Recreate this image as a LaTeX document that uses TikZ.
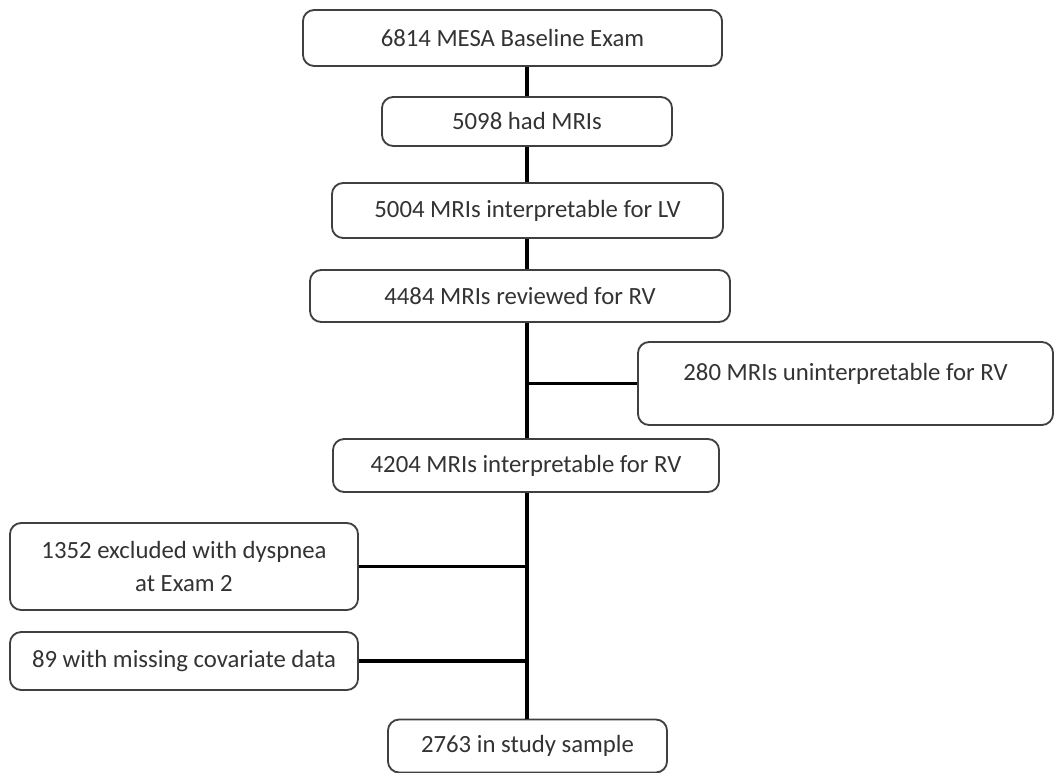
\documentclass[tikz,border=0pt]{standalone}
\usepackage{fontspec}
\setmainfont{Carlito}
\usetikzlibrary{positioning}

\begin{document}
\begin{tikzpicture}[x=0.025cm, y=-0.025cm,
    box/.style={draw=black!75, line width=1.3pt, rounded corners=0.28cm,
      fill=white, text=black!80, align=center, inner sep=0pt,
      font=\fontsize{17.6}{23}\selectfont},
    link/.style={line width=2.2pt, black}]
    \useasboundingbox (0,0) rectangle (1056,773);

    % main column
    \node[box, minimum width=10.475cm, minimum height=1.4cm] (mesa) at (512.5,38) {6814 MESA Baseline Exam};
    \node[box, minimum width=7.25cm, minimum height=1.225cm] (mri) at (527,121.5) {5098 had MRIs};
    \node[box, minimum width=9.775cm, minimum height=1.375cm] (lv) at (527.5,210.5) {5004 MRIs interpretable for LV};
    \node[box, minimum width=10.5cm, minimum height=1.3cm] (review) at (520,296) {4484 MRIs reviewed for RV};
    \node[box, minimum width=9.65cm, minimum height=1.325cm] (rv) at (526,465.5) {4204 MRIs interpretable for RV};
    \node[box, minimum width=6.975cm, minimum height=1.325cm] (sample) at (527.5,746) {2763 in study sample};

    % exclusions
    \node[box, minimum width=10.375cm, minimum height=2.075cm, text depth=0.6cm] (uninterp) at (845.5,383.5) {280 MRIs uninterpretable for RV};
    \node[box, minimum width=8.7cm, minimum height=2.175cm] (dysp) at (184,566.5) {1352 excluded with dyspnea\\at Exam 2};
    \node[box, minimum width=8.7cm, minimum height=1.45cm] (covar) at (184,661) {89 with missing covariate data};

    % spine joints
    \coordinate (j1) at (527,383.5);
    \coordinate (j2) at (527,566.5);
    \coordinate (j3) at (527,661);

    % connectors
    \draw[link] (mesa.south -| j1) -- (mri.north -| j1);
    \draw[link] (mri.south -| j1) -- (lv.north -| j1);
    \draw[link] (lv.south -| j1) -- (review.north -| j1);
    \draw[link] (review.south -| j1) -- (rv.north -| j1);
    \draw[link] (j1) -- (uninterp.west);
    \draw[link] (rv.south -| j2) -- (sample.north -| j2);
    \draw[link] (dysp.east) -- (j2);
    \draw[link] (covar.east) -- (j3);
\end{tikzpicture}
\end{document}
